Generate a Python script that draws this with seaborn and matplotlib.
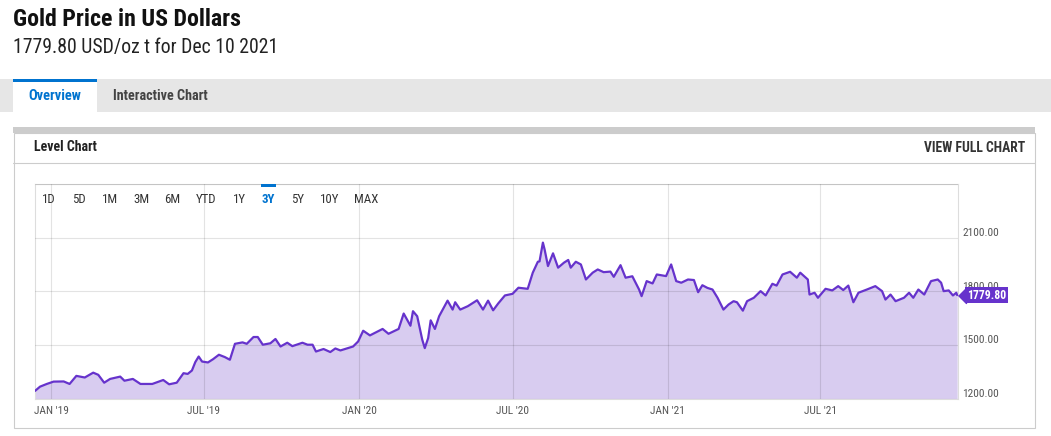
import matplotlib
matplotlib.use("Agg")
import matplotlib.pyplot as plt
import matplotlib.transforms as mtransforms
from matplotlib import font_manager
from matplotlib.patches import Rectangle
import pandas as pd
import seaborn as sns

# datos (precio del oro, USD/oz t)
dates = [
    "2018-12-13", "2018-12-19", "2018-12-27", "2019-01-04", "2019-01-16", "2019-01-23", "2019-01-31", "2019-02-10", "2019-02-20", "2019-02-26",
    "2019-03-05", "2019-03-12", "2019-03-24", "2019-03-29", "2019-04-08", "2019-04-17", "2019-05-01", "2019-05-14", "2019-05-21", "2019-05-30",
    "2019-06-07", "2019-06-12", "2019-06-17", "2019-06-21", "2019-06-25", "2019-06-29", "2019-07-06", "2019-07-12", "2019-07-19", "2019-07-26",
    "2019-08-01", "2019-08-07", "2019-08-16", "2019-08-21", "2019-08-29", "2019-09-03", "2019-09-09", "2019-09-18", "2019-09-24", "2019-09-30",
    "2019-10-08", "2019-10-14", "2019-10-26", "2019-11-01", "2019-11-07", "2019-11-11", "2019-11-20", "2019-11-28", "2019-12-04", "2019-12-10",
    "2019-12-25", "2019-12-31", "2020-01-06", "2020-01-14", "2020-01-29", "2020-02-05", "2020-02-17", "2020-02-23", "2020-03-02", "2020-03-05",
    "2020-03-10", "2020-03-16", "2020-03-19", "2020-03-23", "2020-03-26", "2020-03-31", "2020-04-05", "2020-04-15", "2020-04-21", "2020-04-24",
    "2020-04-30", "2020-05-09", "2020-05-20", "2020-05-27", "2020-06-02", "2020-06-08", "2020-06-14", "2020-06-22", "2020-07-01", "2020-07-08",
    "2020-07-19", "2020-07-25", "2020-07-31", "2020-08-02", "2020-08-06", "2020-08-08", "2020-08-12", "2020-08-18", "2020-08-24", "2020-08-31",
    "2020-09-05", "2020-09-08", "2020-09-14", "2020-09-20", "2020-09-26", "2020-10-04", "2020-10-10", "2020-10-17", "2020-10-25", "2020-10-29",
    "2020-11-06", "2020-11-12", "2020-11-20", "2020-11-28", "2020-12-01", "2020-12-07", "2020-12-14", "2020-12-19", "2020-12-30", "2021-01-05",
    "2021-01-11", "2021-01-17", "2021-01-25", "2021-02-01", "2021-02-06", "2021-02-11", "2021-02-17", "2021-02-23", "2021-03-01", "2021-03-08",
    "2021-03-14", "2021-03-20", "2021-03-24", "2021-03-31", "2021-04-05", "2021-04-13", "2021-04-21", "2021-04-27", "2021-05-05", "2021-05-10",
    "2021-05-17", "2021-05-26", "2021-06-03", "2021-06-07", "2021-06-16", "2021-06-18", "2021-06-24", "2021-06-28", "2021-07-07", "2021-07-15",
    "2021-07-22", "2021-07-28", "2021-08-03", "2021-08-09", "2021-08-15", "2021-08-25", "2021-09-04", "2021-09-12", "2021-09-16", "2021-09-22",
    "2021-09-28", "2021-10-08", "2021-10-14", "2021-10-19", "2021-10-25", "2021-11-01", "2021-11-09", "2021-11-17", "2021-11-21", "2021-11-24",
    "2021-11-30", "2021-12-05", "2021-12-09", "2021-12-10",
]
prices = [
    1245, 1269, 1284, 1297, 1298, 1284, 1329, 1320, 1347, 1335,
    1291, 1312, 1325, 1302, 1312, 1284, 1284, 1306, 1282, 1291,
    1344, 1340, 1359, 1406, 1437, 1409, 1404, 1422, 1447, 1434,
    1419, 1508, 1516, 1508, 1546, 1546, 1503, 1511, 1535, 1493,
    1514, 1495, 1514, 1503, 1503, 1465, 1479, 1462, 1482, 1471,
    1493, 1521, 1581, 1555, 1591, 1564, 1591, 1677, 1609, 1690,
    1662, 1531, 1484, 1540, 1639, 1591, 1662, 1749, 1699, 1740,
    1699, 1718, 1751, 1699, 1749, 1695, 1733, 1778, 1787, 1821,
    1815, 1905, 1966, 1968, 2073, 2035, 1942, 2013, 1933, 1961,
    1976, 1933, 1966, 1951, 1867, 1905, 1923, 1908, 1911, 1882,
    1947, 1877, 1885, 1811, 1774, 1858, 1845, 1895, 1886, 1951,
    1858, 1849, 1867, 1864, 1796, 1835, 1820, 1811, 1765, 1699,
    1727, 1746, 1740, 1693, 1746, 1765, 1802, 1778, 1843, 1833,
    1895, 1910, 1877, 1905, 1867, 1783, 1793, 1765, 1815, 1806,
    1830, 1808, 1833, 1740, 1793, 1811, 1830, 1802, 1755, 1783,
    1746, 1765, 1793, 1765, 1811, 1783, 1858, 1867, 1849, 1802,
    1806, 1778, 1793, 1779.80,
]
last_price = 1779.80
y_ticks = [1200, 1500, 1800, 2100, 2400]
y_tick_labels = ["1200.00", "1500.00", "1800.00", "2100.00", ""]
x_ticks = ["2019-01-01", "2019-07-01", "2020-01-01", "2020-07-01", "2021-01-01", "2021-07-01"]
x_tick_labels = ["JAN '19", "JUL '19", "JAN '20", "JUL '20", "JAN '21", "JUL '21"]
range_buttons = ["1D", "5D", "1M", "3M", "6M", "YTD", "1Y", "3Y", "5Y", "10Y", "MAX"]
active_button = "3Y"

df = pd.DataFrame({"date": pd.to_datetime(dates), "price": prices})

sns.set_theme(style="white")

# fuente: Roboto Condensed si existe, si no Roboto
names = {f.name for f in font_manager.fontManager.ttflist}
font = "Roboto Condensed" if "Roboto Condensed" in names else "Roboto"
plt.rcParams["font.family"] = [font, "DejaVu Sans"]

line_color = "#6633cc"
fill_color = "#d8ccf0"
blue = "#0073cf"

W, H = 1051, 436
fig = plt.figure(figsize=(W / 100, H / 100), dpi=100)
fig.patch.set_facecolor("white")

# capa de fondo en pixeles para la cabecera y el panel
bg = fig.add_axes([0, 0, 1, 1])
bg.set_xlim(0, W)
bg.set_ylim(H, 0)
bg.axis("off")

bg.text(13, 20, "Gold Price in US Dollars", fontsize=17.2, fontweight="bold", color="#111111", va="center")
bg.text(13, 48, "1779.80 USD/oz t for Dec 10 2021", fontsize=14.2, color="#222222", va="center")

# pestañas
bg.add_patch(Rectangle((0, 79), W, 33, facecolor="#e6e6e6", edgecolor="none"))
bg.add_patch(Rectangle((13, 79), 84, 33, facecolor="white", edgecolor="none"))
bg.add_patch(Rectangle((13, 79), 84, 3, facecolor=blue, edgecolor="none"))
bg.text(55, 96, "Overview", fontsize=10.4, fontweight="bold", color=blue, ha="center", va="center")
bg.text(113, 96, "Interactive Chart", fontsize=10.2, fontweight="bold", color="#444444", va="center")

# panel
bg.add_patch(Rectangle((13, 127), 1022, 6, facecolor="#cccccc", edgecolor="none"))
bg.add_patch(Rectangle((13.5, 133), 1021, 294.5, facecolor="none", edgecolor="#cccccc", linewidth=0.8))
bg.plot([13, 1035], [163.5, 163.5], color="#cccccc", linewidth=0.8)
bg.text(34, 147, "Level Chart", fontsize=10, fontweight="bold", color="#222222", va="center")
bg.text(1025, 148, "VIEW FULL CHART", fontsize=9.8, fontweight="bold", color="#333333", ha="right", va="center")

# grafico principal
ax = fig.add_axes([35 / W, (H - 399) / H, 923 / W, 215 / H])
ax.fill_between(df["date"], df["price"], 1200, color=fill_color, linewidth=0, zorder=1)
sns.lineplot(data=df, x="date", y="price", ax=ax, color=line_color, linewidth=1.6, zorder=3)

ax.set_xlim(pd.Timestamp("2018-12-13"), pd.Timestamp("2021-12-11"))
ax.set_ylim(1200, 2400)
ax.set_xticks(pd.to_datetime(x_ticks))
ax.set_xticklabels(x_tick_labels)
ax.set_yticks(y_ticks)
ax.set_yticklabels(y_tick_labels)
ax.yaxis.tick_right()
for lab in ax.get_yticklabels():
    lab.set_verticalalignment("bottom")
ax.tick_params(axis="both", length=0, labelsize=8.2, colors="#555555")
ax.tick_params(axis="x", pad=5)
ax.tick_params(axis="y", pad=3)
ax.set_xlabel("")
ax.set_ylabel("")
ax.set_axisbelow(False)
ax.grid(True, color="black", alpha=0.11, linewidth=0.8)
for s in ax.spines.values():
    s.set_color("#dddddd")
    s.set_linewidth(0.8)

# botones de rango
button_x = [42, 72, 102, 133, 164, 196, 233, 262, 291, 320, 354]
for label, bx in zip(range_buttons, button_x):
    active = label == active_button
    bg.text(bx, 199, label, fontsize=9.3, color=blue if active else "#333333",
            fontweight="bold" if active else "normal", va="center", zorder=10)
    if active:
        bg.add_patch(Rectangle((bx - 1, 184), 15, 3, facecolor=blue, edgecolor="none", zorder=10))
bg.set_zorder(5)
bg.patch.set_alpha(0)

# etiqueta del ultimo precio (tapa en parte la etiqueta 1800.00, como en el original)
trans = mtransforms.blended_transform_factory(ax.transAxes, ax.transData)
ax.plot([1], [last_price], marker=[(0, 0), (1, -1), (1, 1)], markersize=11.5, color=line_color,
        transform=trans, clip_on=False, zorder=6)
ax.annotate(f"{last_price:.2f}", xy=(1, last_price), xycoords=trans, xytext=(9, 0),
            textcoords="offset pixels", ha="left", va="center", fontsize=8.5, fontweight="bold",
            color="white", bbox=dict(boxstyle="square,pad=0.15", facecolor=line_color, edgecolor="none"),
            annotation_clip=False, zorder=6)

plt.savefig("out.png", dpi=100)
